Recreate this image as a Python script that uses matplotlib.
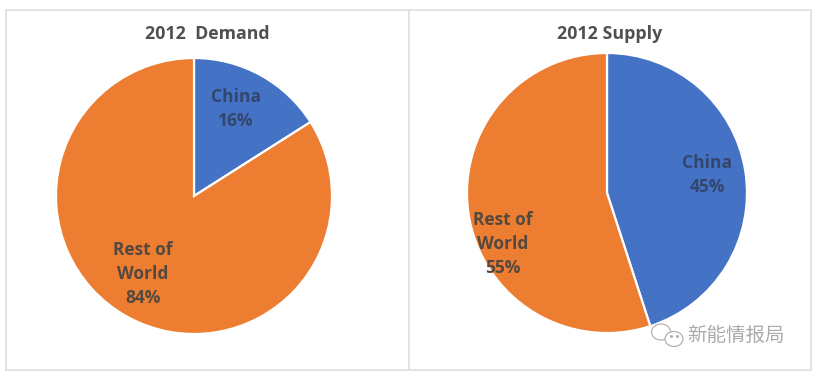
import matplotlib
matplotlib.use("Agg")
import matplotlib.pyplot as plt
from matplotlib.patches import Rectangle, Ellipse
from matplotlib.lines import Line2D

W, H = 817, 375
titles = ["2012  Demand", "2012 Supply"]
labels = ["China", "Rest of\nWorld"]
demand = [16, 84]
supply = [45, 55]
colors = ["#4472C4", "#ED7D31"]
watermark = "新能情报局"
FONT = ["Open Sans", "DejaVu Sans"]
LABEL_COLORS = ["#33466E", "#54483F"]

fig = plt.figure(figsize=(W / 100, H / 100), dpi=100, facecolor="white")


def px_axes(cx, cy, r):
    return fig.add_axes([(cx - r) / W, 1 - (cy + r) / H, 2 * r / W, 2 * r / H])


def pie(cx, cy, r, vals, lpos, title, tx, ty):
    ax = px_axes(cx, cy, r)
    ax.pie(vals, colors=colors, startangle=90, counterclock=False, radius=1,
           wedgeprops=dict(edgecolor="white", linewidth=1.6))
    ax.set_xlim(-1, 1)
    ax.set_ylim(-1, 1)
    ax.set_aspect("equal")
    ax.axis("off")
    for name, v, (x, y), c in zip(labels, vals, lpos, LABEL_COLORS):
        fig.text(x / W, 1 - y / H, f"{name}\n{v}%", ha="center", va="center",
                 fontsize=12.5, fontweight="bold", color=c,
                 family=FONT, linespacing=1.46)
    fig.text(tx / W, 1 - ty / H, title, ha="center", va="center",
             fontsize=12.8, fontweight="bold", color="#505050", family=FONT)


pie(194, 196, 138, demand, [(236, 109), (143, 274)], titles[0], 207, 34)
pie(607, 193, 140, supply, [(707, 175), (503, 244)], titles[1], 610, 34)

# panel frame and divider
border = "#DEDEDE"
fig.add_artist(Rectangle((6 / W, 1 - 370 / H), 805 / W, 360 / H,
                         transform=fig.transFigure, fill=False,
                         edgecolor=border, linewidth=1.2))
fig.add_artist(Line2D([409 / W, 409 / W], [1 - 370 / H, 1 - 10 / H],
                      transform=fig.transFigure, color=border, linewidth=1.2))

# watermark: chat bubbles and text
overlay = fig.add_axes([0, 0, 1, 1], facecolor="none")
overlay.set_xlim(0, W)
overlay.set_ylim(H, 0)
overlay.axis("off")
overlay.add_patch(Ellipse((661, 332), 19, 16, facecolor="white", edgecolor="#B5B5B5", linewidth=0.9))
overlay.add_patch(Ellipse((674, 339), 18, 15, facecolor="white", edgecolor="#B0B0B0", linewidth=0.9))
overlay.plot([671, 677], [336, 336], ls="none", marker="o", ms=1.2, color="#B0B0B0")
overlay.text(736, 335, watermark, ha="center", va="center", fontsize=14,
             color="#AAAAAA", family=["Noto Sans CJK SC", "DejaVu Sans"])

fig.savefig("out.png", dpi=100, facecolor="white")
